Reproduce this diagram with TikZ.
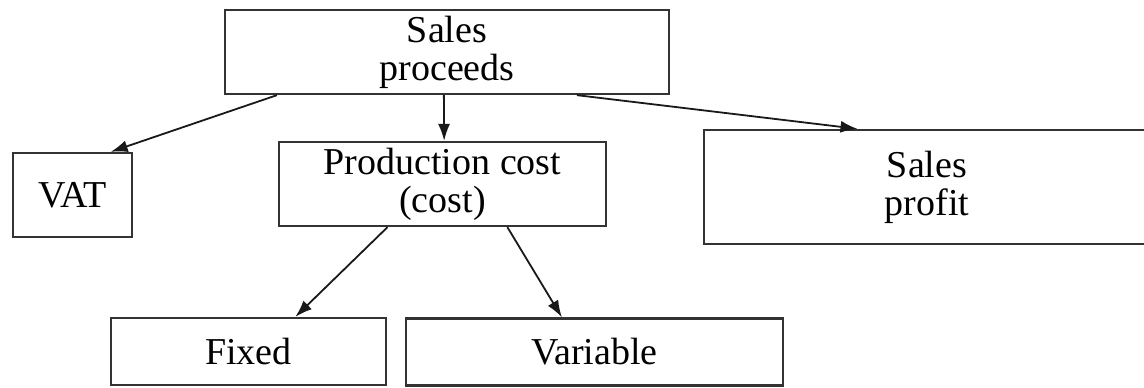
\documentclass[tikz,border=0pt]{standalone}
\usepackage{fontspec}
\setmainfont{Liberation Serif}
\usetikzlibrary{arrows.meta,calc}
\begin{document}
\begin{tikzpicture}[x=1pt,y=-1pt,
  box/.style={draw=black!80,line width=2.3pt,rectangle,inner sep=0pt,align=center,
    font=\fontsize{38}{38}\selectfont},
  arr/.style={draw=black!90,line width=1.8pt,-{Latex[length=17pt,width=12pt]}}]
\useasboundingbox (0,0) rectangle (1144,388);
\clip (0,0) rectangle (1144,388);
\node[box,minimum width=444pt,minimum height=84pt] (sp) at (447,52) {Sales\\proceeds};
\node[box,minimum width=119pt,minimum height=84pt] (vat) at (72.5,195) {VAT};
\node[box,minimum width=327pt,minimum height=84pt] (pc) at (442.5,184) {Production cost\\(cost)};
\node[box,minimum width=446pt,minimum height=114pt] (pr) at (927,187) {Sales\\profit};
\node[box,minimum width=275pt,minimum height=67pt] (fx) at (248.5,351.5) {Fixed};
\node[box,minimum width=377pt,minimum height=67pt] (vr) at (594.5,352) {Variable};
\draw[arr] ($(sp.south west)!0.119!(sp.south east)$) -- ($(vat.north west)!0.815!(vat.north east)$);
\draw[arr] ($(sp.south west)!0.493!(sp.south east)$) -- ($(pc.north west)!0.505!(pc.north east)$);
\draw[arr] ($(sp.south west)!0.791!(sp.south east)$) -- ($(pr.north west)!0.345!(pr.north east)$);
\draw[arr] ($(pc.south west)!0.333!(pc.south east)$) -- ($(fx.north west)!0.669!(fx.north east)$);
\draw[arr] ($(pc.south west)!0.697!(pc.south east)$) -- ($(vr.north west)!0.414!(vr.north east)$);
\end{tikzpicture}
\end{document}
